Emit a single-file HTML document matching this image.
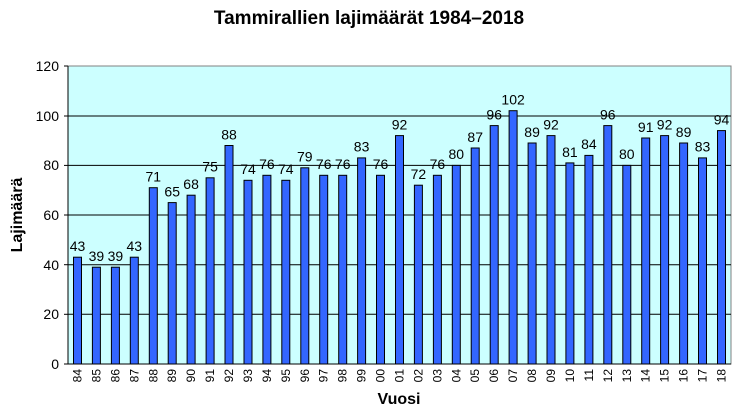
<!DOCTYPE html><html><head><style>body{margin:0;background:#fff}svg{display:block;font-family:"Liberation Sans",Arial,sans-serif}</style></head><body>
<svg width="738" height="411" viewBox="0 0 738 411">
<text x="369" y="24" text-anchor="middle" font-size="19" font-weight="bold">Tammirallien lajimäärät 1984–2018</text>
<rect x="68" y="66" width="663" height="298" fill="#ccffff" stroke="#808080"/>
<g stroke="#000" stroke-width="1">
<line x1="68" y1="116" x2="731" y2="116"/><line x1="68" y1="165.4" x2="731" y2="165.4"/><line x1="68" y1="215" x2="731" y2="215"/><line x1="68" y1="264.7" x2="731" y2="264.7"/><line x1="68" y1="314.3" x2="731" y2="314.3"/>
<line x1="68" y1="66" x2="68" y2="364"/><line x1="68" y1="364" x2="731" y2="364"/>
<line x1="64" y1="66" x2="68" y2="66"/><line x1="64" y1="116" x2="68" y2="116"/><line x1="64" y1="165.4" x2="68" y2="165.4"/><line x1="64" y1="215" x2="68" y2="215"/><line x1="64" y1="264.7" x2="68" y2="264.7"/><line x1="64" y1="314.3" x2="68" y2="314.3"/><line x1="64" y1="364" x2="68" y2="364"/>
</g>
<g font-size="14" text-anchor="end">
<text x="59" y="71">120</text><text x="59" y="121">100</text><text x="59" y="170">80</text><text x="59" y="220">60</text><text x="59" y="270">40</text><text x="59" y="319">20</text><text x="59" y="369">0</text>
</g>
<g fill="#3366ff" stroke="#000" stroke-width="1">
<rect x="73.5" y="257.2" width="8" height="106.8"/><rect x="92.4" y="267.2" width="8" height="96.8"/><rect x="111.4" y="267.2" width="8" height="96.8"/><rect x="130.3" y="257.2" width="8" height="106.8"/><rect x="149.3" y="187.7" width="8" height="176.3"/><rect x="168.2" y="202.6" width="8" height="161.4"/><rect x="187.1" y="195.2" width="8" height="168.8"/><rect x="206.1" y="177.8" width="8" height="186.2"/><rect x="225" y="145.5" width="8" height="218.5"/><rect x="244" y="180.3" width="8" height="183.7"/><rect x="262.9" y="175.3" width="8" height="188.7"/><rect x="281.8" y="180.3" width="8" height="183.7"/><rect x="300.8" y="167.8" width="8" height="196.2"/><rect x="319.7" y="175.3" width="8" height="188.7"/><rect x="338.7" y="175.3" width="8" height="188.7"/><rect x="357.6" y="157.9" width="8" height="206.1"/><rect x="376.5" y="175.3" width="8" height="188.7"/><rect x="395.5" y="135.6" width="8" height="228.4"/><rect x="414.4" y="185.2" width="8" height="178.8"/><rect x="433.4" y="175.3" width="8" height="188.7"/><rect x="452.3" y="165.4" width="8" height="198.6"/><rect x="471.2" y="148" width="8" height="216"/><rect x="490.2" y="125.6" width="8" height="238.4"/><rect x="509.1" y="110.7" width="8" height="253.3"/><rect x="528.1" y="143" width="8" height="221"/><rect x="547" y="135.6" width="8" height="228.4"/><rect x="565.9" y="162.9" width="8" height="201.1"/><rect x="584.9" y="155.4" width="8" height="208.6"/><rect x="603.8" y="125.6" width="8" height="238.4"/><rect x="622.8" y="165.4" width="8" height="198.6"/><rect x="641.7" y="138" width="8" height="226"/><rect x="660.6" y="135.6" width="8" height="228.4"/><rect x="679.6" y="143" width="8" height="221"/><rect x="698.5" y="157.9" width="8" height="206.1"/><rect x="717.5" y="130.6" width="8" height="233.4"/>
</g>
<g font-size="14" text-anchor="middle">
<text x="77.5" y="251">43</text><text x="96.4" y="261">39</text><text x="115.4" y="261">39</text><text x="134.3" y="251">43</text><text x="153.3" y="181.5">71</text><text x="172.2" y="196.5">65</text><text x="191.1" y="189">68</text><text x="210.1" y="171.5">75</text><text x="229" y="139.5">88</text><text x="248" y="174">74</text><text x="266.9" y="169">76</text><text x="285.8" y="174">74</text><text x="304.8" y="161.5">79</text><text x="323.7" y="169">76</text><text x="342.7" y="169">76</text><text x="361.6" y="151.5">83</text><text x="380.5" y="169">76</text><text x="399.5" y="129.5">92</text><text x="418.4" y="179">72</text><text x="437.4" y="169">76</text><text x="456.3" y="159">80</text><text x="475.2" y="142">87</text><text x="494.2" y="119.5">96</text><text x="513.1" y="104.5">102</text><text x="532.1" y="137">89</text><text x="551" y="129.5">92</text><text x="569.9" y="157">81</text><text x="588.9" y="149">84</text><text x="607.8" y="119.5">96</text><text x="626.8" y="159">80</text><text x="645.7" y="132">91</text><text x="664.6" y="129.5">92</text><text x="683.6" y="137">89</text><text x="702.5" y="151.5">83</text><text x="721.5" y="124.5">94</text>
</g>
<g font-size="12" text-anchor="end">
<text transform="translate(81.5,369) rotate(-90)">84</text><text transform="translate(100.4,369) rotate(-90)">85</text><text transform="translate(119.4,369) rotate(-90)">86</text><text transform="translate(138.3,369) rotate(-90)">87</text><text transform="translate(157.3,369) rotate(-90)">88</text><text transform="translate(176.2,369) rotate(-90)">89</text><text transform="translate(195.1,369) rotate(-90)">90</text><text transform="translate(214.1,369) rotate(-90)">91</text><text transform="translate(233,369) rotate(-90)">92</text><text transform="translate(252,369) rotate(-90)">93</text><text transform="translate(270.9,369) rotate(-90)">94</text><text transform="translate(289.8,369) rotate(-90)">95</text><text transform="translate(308.8,369) rotate(-90)">96</text><text transform="translate(327.7,369) rotate(-90)">97</text><text transform="translate(346.7,369) rotate(-90)">98</text><text transform="translate(365.6,369) rotate(-90)">99</text><text transform="translate(384.5,369) rotate(-90)">00</text><text transform="translate(403.5,369) rotate(-90)">01</text><text transform="translate(422.4,369) rotate(-90)">02</text><text transform="translate(441.4,369) rotate(-90)">03</text><text transform="translate(460.3,369) rotate(-90)">04</text><text transform="translate(479.2,369) rotate(-90)">05</text><text transform="translate(498.2,369) rotate(-90)">06</text><text transform="translate(517.1,369) rotate(-90)">07</text><text transform="translate(536.1,369) rotate(-90)">08</text><text transform="translate(555,369) rotate(-90)">09</text><text transform="translate(573.9,369) rotate(-90)">10</text><text transform="translate(592.9,369) rotate(-90)">11</text><text transform="translate(611.8,369) rotate(-90)">12</text><text transform="translate(630.8,369) rotate(-90)">13</text><text transform="translate(649.7,369) rotate(-90)">14</text><text transform="translate(668.6,369) rotate(-90)">15</text><text transform="translate(687.6,369) rotate(-90)">16</text><text transform="translate(706.5,369) rotate(-90)">17</text><text transform="translate(725.5,369) rotate(-90)">18</text>
</g>
<text x="399" y="404" text-anchor="middle" font-size="16" font-weight="bold">Vuosi</text>
<text transform="translate(22,215) rotate(-90)" text-anchor="middle" font-size="16" font-weight="bold">Lajimäärä</text>
</svg></body></html>
